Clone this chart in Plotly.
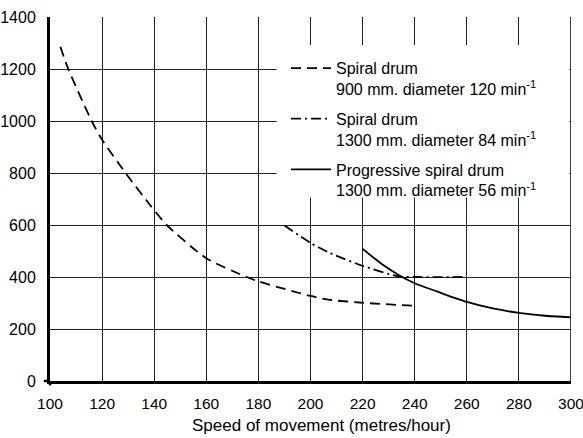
import plotly.graph_objects as go

# ---- data ----
spiral900_x = [104, 107, 116, 120, 129, 138.4, 144.8, 160, 175.5, 180, 200, 207.5, 220, 240]
spiral900_y = [1285, 1200, 1000, 928, 800, 677, 600, 472, 400, 383, 327, 312, 301, 289]

spiral1300_x = [190, 200, 207.5, 220, 233.7, 240, 260]
spiral1300_y = [598, 531, 492, 443, 402, 400, 400]

progressive_x = [220, 227.5, 234, 240, 250, 260, 270, 280, 290, 300]
progressive_y = [508, 449, 407, 376, 339, 304, 279, 262, 251, 245]

x_ticks = [100, 120, 140, 160, 180, 200, 220, 240, 260, 280, 300]
y_ticks = [0, 200, 400, 600, 800, 1000, 1200, 1400]

names = [
    "Spiral drum<br>900 mm. diameter 120 min<sup>-1</sup>",
    "Spiral drum<br>1300 mm. diameter 84 min<sup>-1</sup>",
    "Progressive spiral drum<br>1300 mm. diameter 56 min<sup>-1</sup>",
]

FONT = "Liberation Sans, Arial, Helvetica, sans-serif"

fig = go.Figure()
fig.add_trace(go.Scatter(x=spiral900_x, y=spiral900_y, mode="lines", name=names[0],
                         legendgroup="a",
                         line=dict(color="black", width=1.8, dash="10px,6px", shape="spline", smoothing=0.6)))
fig.add_trace(go.Scatter(x=spiral1300_x, y=spiral1300_y, mode="lines", name=names[1],
                         legendgroup="b",
                         line=dict(color="black", width=1.8, dash="10px,4px,2px,4px", shape="spline", smoothing=0.6)))
fig.add_trace(go.Scatter(x=progressive_x, y=progressive_y, mode="lines", name=names[2],
                         legendgroup="c",
                         line=dict(color="black", width=1.8, shape="spline", smoothing=0.6)))

# white panel hiding the grid behind the legend
fig.add_shape(type="rect", xref="x", yref="y", x0=187, x1=299.4, y0=706, y1=1292,
              fillcolor="white", line=dict(width=0), layer="between")
# right frame line at x = 300
fig.add_shape(type="line", xref="x", yref="y", x0=300, x1=300, y0=0, y1=1400,
              line=dict(color="black", width=1.5), layer="between")
# small crossing stubs at the origin
fig.add_shape(type="line", xref="paper", yref="paper", x0=-0.012, x1=0, y0=0, y1=0,
              line=dict(color="black", width=2.5))
fig.add_shape(type="line", xref="paper", yref="paper", x0=0, x1=0, y0=-0.012, y1=0,
              line=dict(color="black", width=2.5))

fig.update_layout(
    width=583, height=438,
    margin=dict(l=50, r=12, t=17, b=57, autoexpand=False),
    paper_bgcolor="white", plot_bgcolor="white",
    font=dict(family=FONT, size=16, color="black"),
    showlegend=True,
    legend=dict(x=0.453, y=0.906, xanchor="left", yanchor="top",
                bgcolor="rgba(0,0,0,0)", borderwidth=0,
                font=dict(family=FONT, size=16, color="black"),
                valign="top", tracegroupgap=6, itemwidth=40,
                traceorder="grouped"),
    xaxis=dict(range=[100, 300], tickvals=x_ticks, ticktext=[str(v) for v in x_ticks],
               showgrid=True, gridcolor="#222", gridwidth=1,
               showline=True, linecolor="black", linewidth=3,
               ticks="", zeroline=False, ticklabelstandoff=6,
               ticklabeloverflow="allow", automargin=False,
               tickfont=dict(size=15.5)),
    yaxis=dict(range=[0, 1400], tickvals=y_ticks, ticktext=[str(v) for v in y_ticks],
               showgrid=True, gridcolor="#222", gridwidth=1,
               showline=True, linecolor="black", linewidth=3,
               ticks="", zeroline=False, ticklabelstandoff=8,
               ticklabeloverflow="allow", automargin=False,
               tickfont=dict(size=16)),
    annotations=[dict(text="Speed of movement (metres/hour)", xref="paper", yref="paper",
                      x=0.522, y=-0.121, xanchor="center", yanchor="middle", showarrow=False,
                      font=dict(family=FONT, size=17, color="black"))],
)

# remove the page's default 8px body margin so the figure fills the window
fig.write_html("out.html", config={"displayModeBar": False},
               post_script="document.body.style.margin='0';")
